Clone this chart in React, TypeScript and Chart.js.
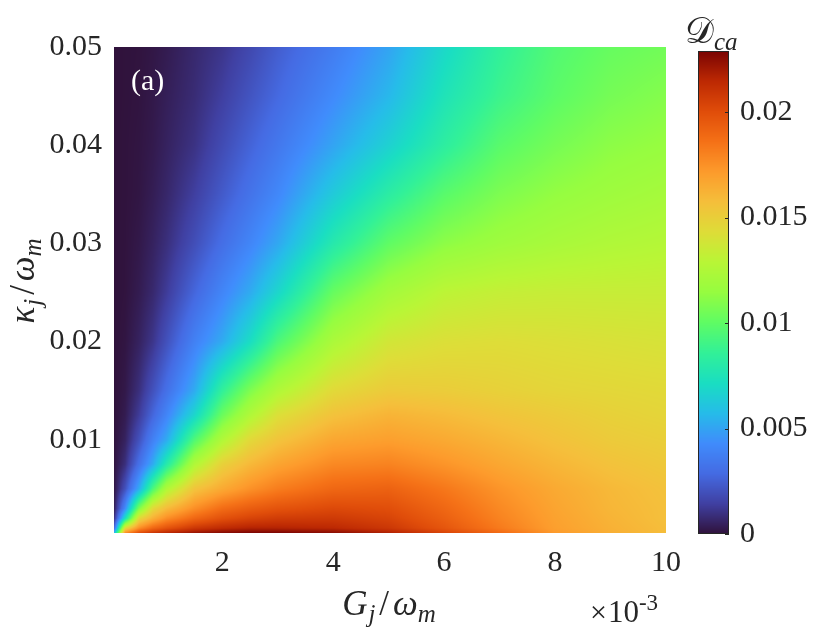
import React, { useEffect, useRef } from "react";
import { Chart, registerables } from "chart.js";

Chart.register(...registerables);

// Grid of the map: G_j/ω_m in units of 1e-3 (columns), κ_j/ω_m (rows)
const G_VALUES = [0.05, 0.25, 0.5, 0.75, 1, 1.5, 2, 2.5, 3, 4, 5, 6, 7, 8, 9, 10];
const KAPPA_VALUES = [0.0005, 0.001, 0.002, 0.003, 0.005, 0.0075, 0.01, 0.0125, 0.015, 0.02, 0.025, 0.03, 0.035, 0.04, 0.045, 0.05];

// D_ca values in units of 1e-3, one row per κ value (bottom to top)
const D_K0005 = [5.4, 17.6, 20.0, 21.0, 21.6, 22.3, 22.7, 22.9, 22.9, 22.6, 21.8, 20.4, 18.9, 17.2, 16.4, 15.8];
const D_K001 = [2.5, 14.5, 17.6, 19.0, 19.8, 20.9, 21.4, 21.7, 21.7, 21.5, 20.9, 19.7, 18.3, 17.0, 16.3, 15.8];
const D_K002 = [0.8, 7.2, 14.5, 16.3, 17.6, 19.0, 19.9, 20.4, 20.7, 20.8, 20.4, 19.3, 18.0, 16.9, 16.2, 15.7];
const D_K003 = [0.3, 4.2, 10.8, 14.5, 15.9, 17.6, 18.8, 19.4, 19.8, 20.2, 20.0, 19.0, 17.8, 16.8, 16.1, 15.7];
const D_K005 = [0.1, 2.0, 5.2, 9.4, 12.5, 15.5, 16.6, 17.5, 18.2, 19.0, 19.2, 18.4, 17.4, 16.6, 16.0, 15.6];
const D_K0075 = [0.05, 0.9, 3.1, 5.2, 8.0, 12.5, 14.9, 16.0, 16.8, 17.8, 18.0, 17.4, 16.7, 16.1, 15.6, 15.3];
const D_K010 = [0.02, 0.5, 2.0, 3.8, 5.2, 9.5, 12.5, 14.5, 15.5, 16.7, 17.0, 16.6, 16.1, 15.6, 15.2, 15.0];
const D_K0125 = [0, 0.3, 1.3, 2.7, 4.0, 6.8, 10.3, 12.5, 14.2, 15.6, 16.2, 15.9, 15.5, 15.2, 14.9, 14.7];
const D_K015 = [0, 0.2, 0.9, 2.0, 3.1, 5.2, 8.5, 10.8, 12.5, 14.5, 15.2, 15.1, 14.9, 14.7, 14.6, 14.5];
const D_K020 = [0, 0.1, 0.5, 1.1, 2.0, 3.8, 5.2, 7.1, 9.4, 12.3, 13.8, 14.2, 14.3, 14.2, 14.1, 14.0];
const D_K025 = [0, 0.05, 0.3, 0.7, 1.3, 2.7, 4.0, 5.2, 6.8, 10.2, 12.0, 13.0, 13.3, 13.4, 13.4, 13.4];
const D_K030 = [0, 0.04, 0.2, 0.5, 0.9, 1.9, 3.0, 4.0, 5.1, 7.9, 10.0, 11.2, 11.8, 12.2, 12.5, 12.7];
const D_K035 = [0, 0.03, 0.12, 0.35, 0.65, 1.4, 2.3, 3.2, 4.1, 6.3, 8.2, 9.8, 10.8, 11.4, 11.8, 12.1];
const D_K040 = [0, 0.03, 0.1, 0.25, 0.5, 1.0, 1.8, 2.6, 3.4, 5.0, 6.6, 8.3, 9.8, 10.6, 11.2, 11.5];
const D_K045 = [0, 0.02, 0.07, 0.2, 0.4, 0.8, 1.4, 2.1, 2.8, 4.2, 5.6, 7.5, 8.9, 9.9, 10.6, 11.0];
const D_K050 = [0, 0.02, 0.05, 0.15, 0.3, 0.7, 1.1, 1.7, 2.4, 3.6, 5.0, 6.9, 8.5, 9.6, 10.2, 10.5];
const D_ROWS = [D_K0005, D_K001, D_K002, D_K003, D_K005, D_K0075, D_K010, D_K0125, D_K015, D_K020, D_K025, D_K030, D_K035, D_K040, D_K045, D_K050];
const D_UNIT = 1e-3;

const X_TICKS = [2, 4, 6, 8, 10];
const Y_TICKS = [0.01, 0.02, 0.03, 0.04, 0.05];
const C_TICKS = [0, 0.005, 0.01, 0.015, 0.02];
const C_MAX = 0.0229;

// turbo colormap stops
const TURBO = [
  [48, 18, 59], [64, 64, 162], [69, 107, 227], [64, 140, 252], [38, 188, 233],
  [26, 222, 194], [50, 241, 152], [95, 252, 100], [150, 253, 64], [185, 246, 54],
  [222, 221, 56], [245, 191, 59], [253, 155, 44], [245, 113, 23], [224, 77, 10],
  [189, 41, 3], [122, 4, 3],
];

function turbo(t: number): [number, number, number] {
  const c = Math.max(0, Math.min(1, t)) * (TURBO.length - 1);
  const i = Math.min(TURBO.length - 2, Math.floor(c));
  const f = c - i;
  const a = TURBO[i], b = TURBO[i + 1];
  return [a[0] + (b[0] - a[0]) * f, a[1] + (b[1] - a[1]) * f, a[2] + (b[2] - a[2]) * f];
}

const SERIF = "'Liberation Serif', 'Times New Roman', serif";
const TEXT = "#262626";

type Run = { t: string; font: string; dy?: number; dx?: number };

function runsWidth(ctx: CanvasRenderingContext2D, runs: Run[]) {
  let w = 0;
  for (const r of runs) {
    ctx.font = r.font;
    w += ctx.measureText(r.t).width + (r.dx || 0);
  }
  return w;
}
function drawRuns(ctx: CanvasRenderingContext2D, runs: Run[], x: number, y: number) {
  let cx = x;
  for (const r of runs) {
    ctx.font = r.font;
    cx += r.dx || 0;
    ctx.fillText(r.t, cx, y + (r.dy || 0));
    cx += ctx.measureText(r.t).width;
  }
}

const heatmapPlugin = {
  id: "heatmap",
  beforeDatasetsDraw(chart: any) {
    const { ctx, chartArea, scales } = chart;
    const xs = scales.x, ys = scales.y;
    const left = Math.round(chartArea.left), top = Math.round(chartArea.top);
    const w = Math.round(chartArea.right) - left, h = Math.round(chartArea.bottom) - top;
    const img = ctx.createImageData(w, h);
    for (let j = 0; j < KAPPA_VALUES.length - 1; j++) {
      const yb = ys.getPixelForValue(KAPPA_VALUES[j]);
      const yt = ys.getPixelForValue(KAPPA_VALUES[j + 1]);
      for (let i = 0; i < G_VALUES.length - 1; i++) {
        const x0 = xs.getPixelForValue(G_VALUES[i]);
        const x1 = xs.getPixelForValue(G_VALUES[i + 1]);
        const v00 = D_ROWS[j][i], v10 = D_ROWS[j][i + 1];
        const v01 = D_ROWS[j + 1][i], v11 = D_ROWS[j + 1][i + 1];
        for (let py = Math.round(yt); py < Math.round(yb); py++) {
          const v = Math.max(0, Math.min(1, (yb - (py + 0.5)) / (yb - yt)));
          for (let px = Math.round(x0); px < Math.round(x1); px++) {
            const u = Math.max(0, Math.min(1, (px + 0.5 - x0) / (x1 - x0)));
            const val = (v00 * (1 - u) + v10 * u) * (1 - v) + (v01 * (1 - u) + v11 * u) * v;
            const [r, g, b] = turbo((val * D_UNIT) / C_MAX);
            const ix = px - left, iy = py - top;
            if (ix < 0 || iy < 0 || ix >= w || iy >= h) continue;
            const k = (iy * w + ix) * 4;
            img.data[k] = r; img.data[k + 1] = g; img.data[k + 2] = b; img.data[k + 3] = 255;
          }
        }
      }
    }
    ctx.putImageData(img, left, top);
  },
  afterDraw(chart: any) {
    const ctx: CanvasRenderingContext2D = chart.ctx;
    ctx.save();
    ctx.textAlign = "left";
    ctx.textBaseline = "alphabetic";
    // panel label
    ctx.fillStyle = "#ffffff";
    ctx.font = `30px ${SERIF}`;
    ctx.fillText("(a)", 131, 90);

    ctx.fillStyle = TEXT;
    const big = `italic 35px ${SERIF}`, sub = `italic 25px ${SERIF}`, up = `35px ${SERIF}`;
    // x title
    const xRuns: Run[] = [
      { t: "G", font: big }, { t: "j", font: sub, dy: 7, dx: 1 },
      { t: "/", font: up, dx: 4 }, { t: "ω", font: big, dx: 4 }, { t: "m", font: sub, dy: 7 },
    ];
    const xw = runsWidth(ctx, xRuns);
    drawRuns(ctx, xRuns, 389 - xw / 2, 615);

    // y title
    const yRuns: Run[] = [
      { t: "κ", font: big }, { t: "j", font: sub, dy: 7, dx: 1 },
      { t: "/", font: up, dx: 4 }, { t: "ω", font: big, dx: 4 }, { t: "m", font: sub, dy: 7 },
    ];
    const yw = runsWidth(ctx, yRuns);
    ctx.save();
    ctx.translate(34, 281);
    ctx.rotate(-Math.PI / 2);
    drawRuns(ctx, yRuns, -yw / 2, 0);
    ctx.restore();

    // exponent label
    drawRuns(ctx, [
      { t: "×", font: `30px ${SERIF}` },
      { t: "10", font: `31px ${SERIF}`, dx: 1 },
      { t: "-3", font: `23px ${SERIF}`, dy: -12 },
    ], 590, 622);
    ctx.restore();
  },
};

const colorbarPlugin = {
  id: "colorbar",
  beforeDatasetsDraw(chart: any) {
    const { ctx, chartArea, scales } = chart;
    const ys = scales.y;
    const top = Math.round(chartArea.top), bottom = Math.round(chartArea.bottom);
    for (let py = top; py < bottom; py++) {
      const val = ys.getValueForPixel(py + 0.5);
      const [r, g, b] = turbo(val / C_MAX);
      ctx.fillStyle = `rgb(${r | 0},${g | 0},${b | 0})`;
      ctx.fillRect(chartArea.left, py, chartArea.right - chartArea.left, 1);
    }
  },
  afterDraw(chart: any) {
    const { ctx, chartArea, scales } = chart;
    const ys = scales.y;
    ctx.save();
    ctx.strokeStyle = TEXT;
    ctx.lineWidth = 1;
    ctx.beginPath();
    for (const v of C_TICKS) {
      const y = Math.round(ys.getPixelForValue(v)) + 0.5;
      ctx.moveTo(chartArea.right - 4, y);
      ctx.lineTo(chartArea.right, y);
    }
    ctx.stroke();
    ctx.strokeRect(Math.round(chartArea.left) + 0.5, Math.round(chartArea.top) + 0.5,
      Math.round(chartArea.right - chartArea.left) - 1, Math.round(chartArea.bottom - chartArea.top) - 1);
    // colorbar title
    ctx.fillStyle = TEXT;
    ctx.textBaseline = "alphabetic";
    drawRuns(ctx, [
      { t: "𝒟", font: `36px 'DejaVu Serif', 'DejaVu Sans', ${SERIF}` },
      { t: "ca", font: `italic 25px ${SERIF}`, dy: 7, dx: 0 },
    ], 685, 43);
    ctx.restore();
  },
};

export default function App() {
  const mainRef = useRef<HTMLCanvasElement>(null);
  const cbRef = useRef<HTMLCanvasElement>(null);

  useEffect(() => {
    const tickFont = { family: SERIF, size: 30 };
    const main = new Chart(mainRef.current as HTMLCanvasElement, {
      type: "scatter",
      data: { datasets: [] },
      options: {
        animation: false,
        responsive: false,
        events: [],
        layout: { padding: { left: 0, top: 46.7, right: 174, bottom: 0 } },
        plugins: { legend: { display: false }, tooltip: { enabled: false } },
        scales: {
          x: {
            type: "linear",
            min: G_VALUES[0],
            max: G_VALUES[G_VALUES.length - 1],
            afterBuildTicks: (s: any) => { s.ticks = X_TICKS.map((v) => ({ value: v })); },
            afterFit: (s: any) => { s.height = 97; },
            grid: { display: false, drawTicks: false },
            border: { display: false },
            ticks: { font: tickFont, color: TEXT, padding: 12, maxRotation: 0, autoSkip: false, callback: (v: any) => String(v) },
          },
          y: {
            type: "linear",
            min: KAPPA_VALUES[0],
            max: KAPPA_VALUES[KAPPA_VALUES.length - 1],
            afterBuildTicks: (s: any) => { s.ticks = Y_TICKS.map((v) => ({ value: v })); },
            afterFit: (s: any) => { s.width = 114; },
            grid: { display: false, drawTicks: false },
            border: { display: false },
            ticks: { font: tickFont, color: TEXT, padding: 12, autoSkip: false, callback: (v: any) => Number(v).toFixed(2) },
          },
        },
      },
      plugins: [heatmapPlugin],
    } as any);

    const cb = new Chart(cbRef.current as HTMLCanvasElement, {
      type: "scatter",
      data: { datasets: [] },
      options: {
        animation: false,
        responsive: false,
        events: [],
        layout: { padding: { left: 698, top: 51, right: 0, bottom: 96 } },
        plugins: { legend: { display: false }, tooltip: { enabled: false } },
        scales: {
          x: { display: false, min: 0, max: 1 },
          y: {
            type: "linear",
            position: "right",
            min: 0,
            max: C_MAX,
            afterBuildTicks: (s: any) => { s.ticks = C_TICKS.map((v) => ({ value: v })); },
            afterFit: (s: any) => { s.width = 111; },
            grid: { display: false, drawTicks: false },
            border: { display: false },
            ticks: { font: tickFont, color: TEXT, padding: 11, autoSkip: false, callback: (v: any) => String(v) },
          },
        },
      },
      plugins: [colorbarPlugin],
    } as any);

    return () => { main.destroy(); cb.destroy(); };
  }, []);

  const canvasStyle: React.CSSProperties = { position: "absolute", left: 0, top: 0, width: 840, height: 630 };
  return (
    <div style={{ position: "absolute", left: 0, top: 0, width: 840, height: 630, background: "#ffffff" }}>
      <canvas ref={mainRef} width={840} height={630} style={canvasStyle} />
      <canvas ref={cbRef} width={840} height={630} style={canvasStyle} />
    </div>
  );
}
